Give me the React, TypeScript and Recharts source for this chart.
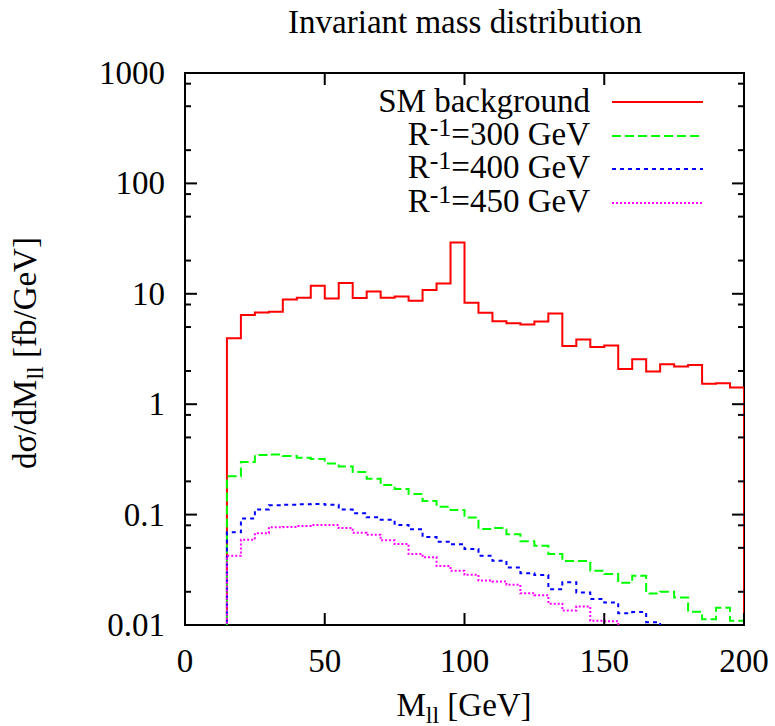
import React from 'react';
import {
  ComposedChart,
  Line,
  XAxis,
  YAxis,
  ReferenceArea,
  Legend,
  Customized
} from 'recharts';

// lower edges of the 5 GeV bins
const BIN_LOW = [
  15, 20, 25, 30, 35, 40, 45, 50, 55, 60, 65, 70, 75, 80, 85, 90, 95, 100, 105,
  110, 115, 120, 125, 130, 135, 140, 145, 150, 155, 160, 165, 170, 175, 180, 185,
  190, 195
];
const X_END = 200;

const SM_BG = [
  3.96, 6.44, 6.78, 6.86, 8.9, 9.2, 11.8, 9.08, 12.5, 9.14, 10.5, 9.2, 9.47, 8.64,
  10.8, 12.4, 29.1, 8.28, 6.72, 5.65, 5.42, 5.27, 5.61, 6.63, 3.37, 3.85, 3.3, 3.4,
  2.08, 2.56, 1.98, 2.3, 2.2, 2.26, 1.53, 1.55, 1.42
];
const R300 = [
  0.223, 0.299, 0.347, 0.351, 0.34, 0.328, 0.319, 0.291, 0.273, 0.243, 0.211,
  0.185, 0.171, 0.154, 0.133, 0.118, 0.11, 0.094, 0.074, 0.0757, 0.0664, 0.0573,
  0.0523, 0.0439, 0.0379, 0.0379, 0.031, 0.0289, 0.0241, 0.0279, 0.0193, 0.02,
  0.0177, 0.0132, 0.0113, 0.0143, 0.0109
];
// these two fall below the axis before 200 GeV
const R400 = [
  0.0692, 0.092, 0.111, 0.1217, 0.123, 0.124, 0.125, 0.1225, 0.111, 0.103, 0.0946,
  0.09, 0.0806, 0.0736, 0.0627, 0.0569, 0.0538, 0.0488, 0.0424, 0.0382, 0.0332,
  0.0295, 0.0283, 0.0211, 0.0244, 0.0197, 0.0172, 0.016, 0.0128, 0.0131, 0.0106,
  0.006
];
const R450 = [
  0.0424, 0.0593, 0.0677, 0.0768, 0.0773, 0.0789, 0.0806, 0.0806, 0.0757, 0.0686,
  0.0658, 0.0585, 0.0542, 0.0439, 0.041, 0.0342, 0.031, 0.0285, 0.0253, 0.0248,
  0.0231, 0.0194, 0.0186, 0.0156, 0.0135, 0.0147, 0.0109, 0.0108, 0.006
];

const X_TICKS = [0, 50, 100, 150, 200];
const Y_MAJOR = [0.01, 0.1, 1, 10, 100, 1000];
const Y_MINOR = [
  0.02, 0.05, 0.08, 0.2, 0.5, 0.8, 2, 5, 8, 20, 50, 80, 200, 500, 800
];
// value under the axis floor, used for the vertical histogram edges
const FLOOR = 0.001;

const SERIES = [
  { key: 'sm', values: SM_BG, color: '#ff0000', dash: undefined, label: 'SM background' },
  { key: 'r300', values: R300, color: '#00ff00', dash: '9 4', label: 'R^-1=300 GeV' },
  { key: 'r400', values: R400, color: '#0000ff', dash: '4 4', label: 'R^-1=400 GeV' },
  { key: 'r450', values: R450, color: '#ff00ff', dash: '2 2', label: 'R^-1=450 GeV' }
];

const FONT = "'Liberation Serif', 'Times New Roman', Times, serif";
const W = 775;
const H = 726;
const PLOT_W = 559;
const PLOT_H = 552;

const buildRows = () => {
  const full = (v: number[]) => v.length === BIN_LOW.length;
  const rows: any[] = [];
  const start: any = { x: BIN_LOW[0] };
  SERIES.forEach(s => (start[s.key] = FLOOR));
  rows.push(start);
  BIN_LOW.forEach((x, i) => {
    const row: any = { x };
    SERIES.forEach(s => (row[s.key] = i < s.values.length ? s.values[i] : null));
    rows.push(row);
  });
  const end: any = { x: X_END };
  const drop: any = { x: X_END };
  SERIES.forEach(s => {
    end[s.key] = full(s.values) ? s.values[s.values.length - 1] : null;
    drop[s.key] = full(s.values) ? FLOOR : null;
  });
  rows.push(end, drop);
  return rows;
};

const data = buildRows();

const renderLabel = (label: string) => {
  const parts = label.split('^-1');
  if (parts.length === 1) return label;
  return (
    <>
      {parts[0]}
      <span style={{ fontSize: 26, position: 'relative', top: -9 }}>-1</span>
      {parts[1]}
    </>
  );
};

const XTick = (props: any) => {
  const { x, y, payload } = props;
  const v = payload.value;
  return (
    <g>
      <line x1={x} x2={x} y1={y} y2={y - 12} stroke="#000" strokeWidth={2} />
      <line x1={x} x2={x} y1={y - PLOT_H} y2={y - PLOT_H + 12} stroke="#000" strokeWidth={2} />
      <text x={x} y={y + 47} textAnchor="middle" fontFamily={FONT} fontSize={33} fill="#000">
        {v}
      </text>
    </g>
  );
};

const YTick = (props: any) => {
  const { x, y, payload } = props;
  const v = payload.value;
  const major = Y_MAJOR.includes(v);
  const len = major ? 12 : 6;
  return (
    <g>
      <line x1={x} x2={x + len} y1={y} y2={y} stroke="#000" strokeWidth={2} />
      <line x1={x + PLOT_W} x2={x + PLOT_W - len} y1={y} y2={y} stroke="#000" strokeWidth={2} />
      {major && (
        <text x={x - 20} y={y + 11} textAnchor="end" fontFamily={FONT} fontSize={33} fill="#000">
          {String(v)}
        </text>
      )}
    </g>
  );
};

// legend keeps the plotting order, not the sorted payload order
const LegendBox = () => (
  <div style={{ fontFamily: FONT, fontSize: 33, color: '#000' }}>
    {SERIES.map(s => (
      <div key={s.key} style={{ display: 'flex', alignItems: 'center', height: 33.7 }}>
        <span style={{ width: 260, textAlign: 'right', lineHeight: '33.7px', whiteSpace: 'nowrap' }}>
          {renderLabel(s.label)}
        </span>
        <svg width={91} height={6} style={{ marginLeft: 22, display: 'block' }}>
          <line x1={0} x2={91} y1={3} y2={3} stroke={s.color} strokeWidth={2} strokeDasharray={s.dash} />
        </svg>
      </div>
    ))}
  </div>
);

const Annotations = () => (
  <g fontFamily={FONT} fontSize={33} fill="#000">
    <text x={465} y={33} textAnchor="middle">Invariant mass distribution</text>
    <text x={464} y={716} textAnchor="middle">
      M<tspan fontSize={24} dy={7}>ll</tspan>
      <tspan dy={-7}> [GeV]</tspan>
    </text>
    <text transform="translate(36, 353) rotate(-90)" textAnchor="middle">
      dσ/dM<tspan fontSize={24} dy={7}>ll</tspan>
      <tspan dy={-7}> [fb/GeV]</tspan>
    </text>
  </g>
);

export default function App() {
  return (
    <div style={{ position: 'absolute', left: 0, top: 0, width: W, height: H, background: '#fff' }}>
      <ComposedChart
        width={W}
        height={H}
        data={data}
        margin={{ top: 73, right: 31, bottom: 0, left: 0 }}
      >
        <XAxis
          dataKey="x"
          type="number"
          domain={[0, 200]}
          ticks={X_TICKS}
          interval={0}
          tickSize={0}
          tickMargin={0}
          tickLine={false}
          axisLine={false}
          height={101}
          tick={<XTick />}
          allowDataOverflow
        />
        <YAxis
          type="number"
          scale="log"
          domain={[0.01, 1000]}
          ticks={[...Y_MAJOR, ...Y_MINOR].sort((a, b) => a - b)}
          interval={0}
          tickSize={0}
          tickMargin={0}
          tickLine={false}
          axisLine={false}
          width={185}
          tick={<YTick />}
          allowDataOverflow
        />
        {SERIES.map(s => (
          <Line
            key={s.key}
            dataKey={s.key}
            name={s.label}
            type="stepAfter"
            stroke={s.color}
            strokeWidth={2}
            strokeDasharray={s.dash}
            dot={false}
            activeDot={false}
            connectNulls={false}
            isAnimationActive={false}
          />
        ))}
        <ReferenceArea
          x1={0}
          x2={200}
          y1={0.01}
          y2={1000}
          fill="none"
          fillOpacity={0}
          stroke="#000"
          strokeWidth={2}
        />
        <Legend
          layout="vertical"
          align="center"
          verticalAlign="middle"
          content={<LegendBox />}
          wrapperStyle={{ position: 'absolute', left: 330, top: 85, width: 380, height: 140 }}
        />
        <Customized component={Annotations} />
      </ComposedChart>
    </div>
  );
}
